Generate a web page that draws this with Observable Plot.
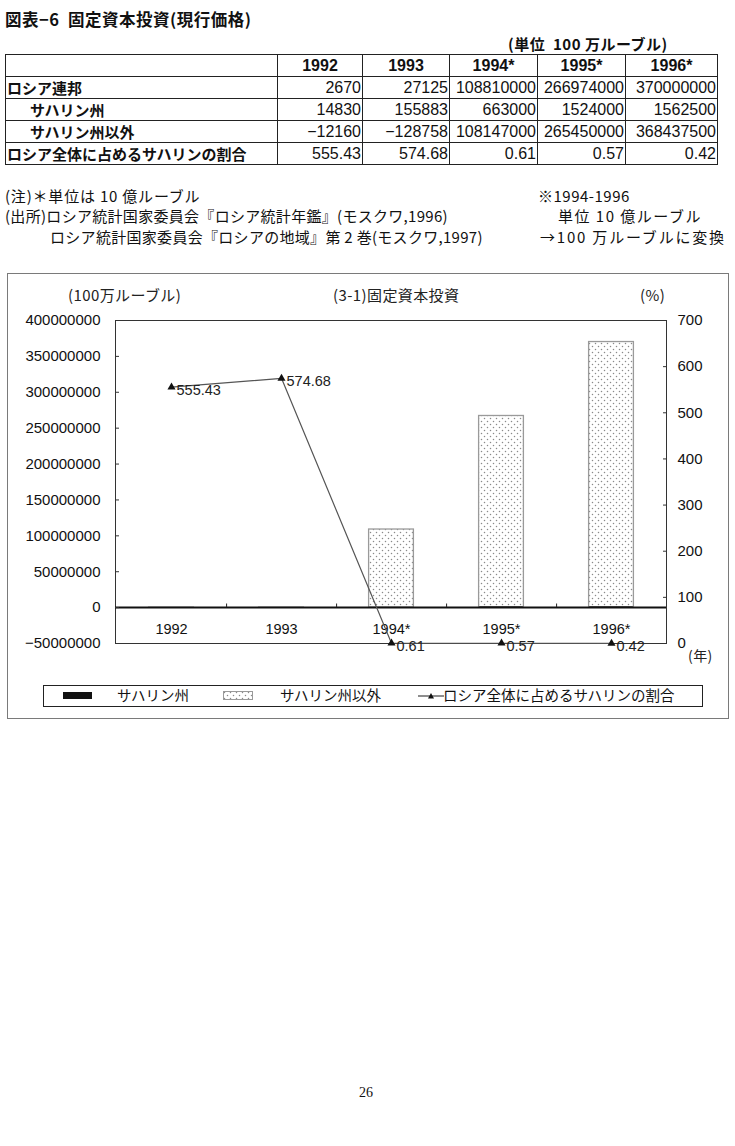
<!DOCTYPE html>
<html><head><meta charset="utf-8">
<script src="https://cdn.jsdelivr.net/npm/d3@7"></script>
<script src="https://cdn.jsdelivr.net/npm/@observablehq/plot@0.6"></script>
<style>
body{margin:0;background:#fff;}
#page{position:relative;width:735px;height:1146px;overflow:hidden;font-family:"Noto Sans CJK JP",sans-serif;color:#111;background:#fff;}
.abs{position:absolute;white-space:nowrap;line-height:1;}
.abs svg{display:block;}
table{position:absolute;left:5px;top:54px;border-collapse:collapse;table-layout:fixed;width:712px;}
td{border:1px solid #222;height:21px;padding:0 1px 0 1px;font-family:"Liberation Sans",Arial,sans-serif;font-size:16px;text-align:right;line-height:21px;white-space:nowrap;overflow:hidden;}
td.lab{text-align:left;font-family:"Noto Sans CJK JP",sans-serif;font-weight:bold;font-size:15px;}
td.hd{text-align:center;font-weight:bold;}
.note{font-size:15px;}
.cap{font-size:15px;color:#222;letter-spacing:0.4px;}
.plotsvg{position:absolute;left:0;top:300px;}
</style></head><body>
<svg width="0" height="0" style="position:absolute">
 <defs>
  <pattern id="dots" width="6" height="6" patternUnits="userSpaceOnUse">
   <rect width="6" height="6" fill="#fff"/>
   <circle cx="1.5" cy="1.5" r="0.75" fill="#8a8a8a"/>
   <circle cx="4.5" cy="4.5" r="0.75" fill="#8a8a8a"/>
  </pattern>
 </defs>
</svg>
<div id="page"></div>
<script>
// ---- data ----
const years = ["1992", "1993", "1994*", "1995*", "1996*"];
const russia = [2670, 27125, 108810000, 266974000, 370000000];
const sakhalin = [14830, 155883, 663000, 1524000, 1562500];
const others = [-12160, -128758, 108147000, 265450000, 368437500];
const share = [555.43, 574.68, 0.61, 0.57, 0.42];
const rowLabels = ["ロシア連邦", "サハリン州", "サハリン州以外", "ロシア全体に占めるサハリンの割合"];
const seriesNames = ["サハリン州", "サハリン州以外", "ロシア全体に占めるサハリンの割合"];
const leftTicks = [-50000000, 0, 50000000, 100000000, 150000000, 200000000, 250000000, 300000000, 350000000, 400000000];
const rightTicks = [0, 100, 200, 300, 400, 500, 600, 700];

const page = document.getElementById("page");
function put(html, css, cls) {
  const d = document.createElement("div");
  d.className = "abs " + (cls || "");
  d.innerHTML = html;
  Object.assign(d.style, css);
  page.appendChild(d);
  return d;
}

// ---- titles & table ----
put("図表−6&nbsp; 固定資本投資(現行価格)", {left: "5px", top: "11px", fontSize: "16.5px", fontWeight: "bold", letterSpacing: "0.5px"});
put("(単位&nbsp; 100 万ルーブル)", {left: "508px", top: "36px", fontSize: "15px", fontWeight: "bold", letterSpacing: "0.5px"});

const table = document.createElement("table");
const colW = [272, 85, 87, 88, 88, 92];
const cg = document.createElement("colgroup");
colW.forEach(w => { const c = document.createElement("col"); c.style.width = w + "px"; cg.appendChild(c); });
table.appendChild(cg);
const fmtShare = v => v.toFixed(2);
const rows = [
  ["", ...years],
  [rowLabels[0], ...russia.map(String)],
  [rowLabels[1], ...sakhalin.map(String)],
  [rowLabels[2], ...others.map(v => v < 0 ? "−" + (-v) : String(v))],
  [rowLabels[3], ...share.map(fmtShare)]
];
rows.forEach((r, ri) => {
  const tr = document.createElement("tr");
  r.forEach((v, ci) => {
    const td = document.createElement("td");
    td.textContent = v;
    if (ci === 0) { td.className = "lab"; if (ri === 2 || ri === 3) td.style.paddingLeft = "24px"; }
    else if (ri === 0) td.className = "hd";
    tr.appendChild(td);
  });
  table.appendChild(tr);
});
page.appendChild(table);

// ---- notes ----
put("(注)＊単位は 10 億ルーブル", {left: "5px", top: "188px", letterSpacing: "0.8px"}, "note");
put("(出所)ロシア統計国家委員会『ロシア統計年鑑』(モスクワ,1996)", {left: "5px", top: "208px", letterSpacing: "0.3px"}, "note");
put("ロシア統計国家委員会『ロシアの地域』第 2 巻(モスクワ,1997)", {left: "50px", top: "229px", letterSpacing: "0.3px"}, "note");
put("※1994-1996", {left: "538px", top: "188px", letterSpacing: "0.5px"}, "note");
put("単位 10 億ルーブル", {left: "558px", top: "208px", letterSpacing: "1.5px"}, "note");
put("→100 万ルーブルに変換", {left: "540px", top: "229px", letterSpacing: "1.8px"}, "note");

// ---- chart box ----
put("", {left: "7px", top: "273px", width: "720px", height: "444px", border: "1px solid #7a7a7a"});
put("(100万ルーブル)", {left: "68px", top: "287px"}, "cap");
put("(3-1)固定資本投資", {left: "333px", top: "287px"}, "cap");
put("(%)", {left: "640px", top: "287px"}, "cap");
put("(年)", {left: "688px", top: "648px", fontSize: "14px"}, "cap");

const W = 735, H = 360, mL = 115, mR = 69, mT = 20, mB = 17;
const stackData = [];
years.forEach((y, i) => {
  stackData.push({year: y, series: seriesNames[0], value: sakhalin[i]});
  stackData.push({year: y, series: seriesNames[1], value: others[i]});
});
const totalData = years.map((y, i) => ({year: y, value: russia[i]}));
const shareData = years.map((y, i) => ({year: y, value: share[i]}));
const bw = (W - mL - mR) / years.length;
const inset = (bw - 45) / 2;
const numFmt = d => d < 0 ? "−" + (-d) : String(d);
const baseStyle = {background: "transparent", fontFamily: "Liberation Sans, Arial, sans-serif", fontSize: "15px", color: "#111", overflow: "visible"};

const p1 = Plot.plot({
  width: W, height: H, marginLeft: mL, marginRight: mR, marginTop: mT, marginBottom: mB,
  style: baseStyle,
  x: {type: "band", domain: years, padding: 0, axis: null},
  y: {domain: [-50000000, 400000000], axis: null},
  color: {domain: seriesNames.slice(0, 2), range: ["#111", "url(#dots)"]},
  marks: [
    Plot.barY(stackData, {x: "year", y: "value", fill: "series", insetLeft: inset, insetRight: inset}),
    Plot.barY(totalData, {x: "year", y: "value", fill: "none", stroke: "#9a9a9a", strokeWidth: 1.3, insetLeft: inset, insetRight: inset}),
    Plot.frame({stroke: "#333"}),
    Plot.ruleY([0], {stroke: "#111", strokeWidth: 2}),
    Plot.ruleX(years.slice(0, -1), {x: d => d, y1: 0, y2: 5000000, dx: bw / 2, stroke: "#222"}),
    Plot.axisY(leftTicks, {anchor: "left", tickSize: 4, dx: 4, tickPadding: 15, label: null, tickFormat: numFmt, stroke: "#333"}),
    Plot.axisX({anchor: "bottom", tickSize: 0, tickPadding: 0, dy: -20, label: null, fontSize: 14.5})
  ]
});
p1.classList.add("plotsvg");
page.appendChild(p1);

const p2 = Plot.plot({
  width: W, height: H, marginLeft: mL, marginRight: mR, marginTop: mT, marginBottom: mB,
  style: baseStyle,
  x: {type: "band", domain: years, padding: 0, axis: null},
  y: {domain: [0, 700], axis: null},
  marks: [
    Plot.axisY(rightTicks, {anchor: "right", tickSize: 4, dx: -4, tickPadding: 11, label: null, tickFormat: d => String(d), stroke: "#333"}),
    Plot.line(shareData, {x: "year", y: "value", stroke: "#555", strokeWidth: 1.2}),
    Plot.dot(shareData, {x: "year", y: "value", symbol: "triangle", r: 3, fill: "#111", stroke: "none"}),
    Plot.text(shareData, {x: "year", y: "value", text: d => fmtShare(d.value), dx: 5, dy: 3, textAnchor: "start", fill: "#222", fontSize: 14.5})
  ]
});
p2.classList.add("plotsvg");
page.appendChild(p2);

// ---- legend ----
put("", {left: "43px", top: "685px", width: "658px", height: "20px", border: "1.5px solid #222"});
put("", {left: "63px", top: "692px", width: "29px", height: "7px", background: "#111"});
put(seriesNames[0], {left: "117px", top: "688px", fontSize: "14.5px"});
put('<svg width="30" height="9"><rect x="0.5" y="0.5" width="29" height="8" fill="url(#dots)" stroke="#9a9a9a"/></svg>', {left: "223px", top: "691px"});
put(seriesNames[1], {left: "280px", top: "688px", fontSize: "14.5px"});
put('<svg width="26" height="10"><line x1="0" y1="5" x2="26" y2="5" stroke="#444" stroke-width="1.2"/><path d="M13,2 L16,7.5 L10,7.5 Z" fill="#111"/></svg>', {left: "418px", top: "691px"});
put(seriesNames[2], {left: "443px", top: "688px", fontSize: "14.5px"});

// ---- page number ----
put("26", {left: "359px", top: "1086px", fontSize: "14px", fontFamily: "Liberation Serif, serif"});
</script>
</body></html>
